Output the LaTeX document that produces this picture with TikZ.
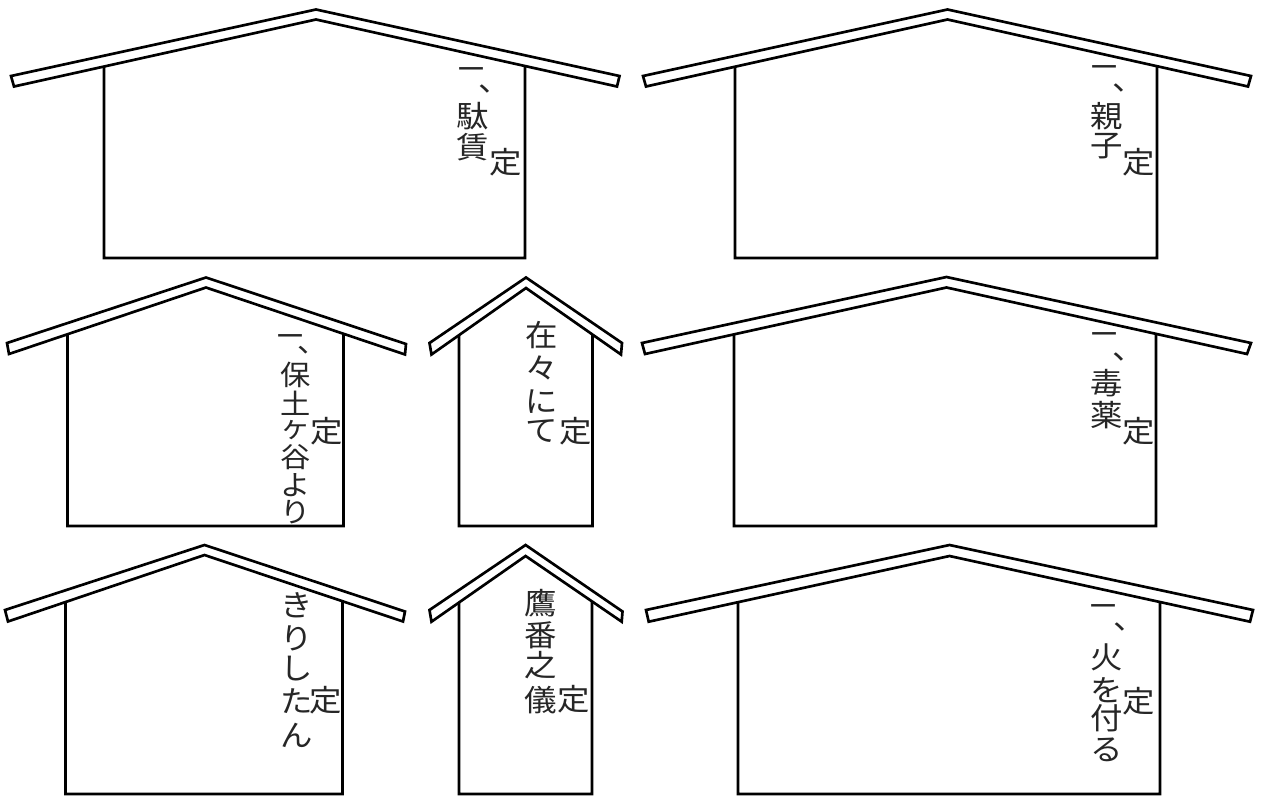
\documentclass[tikz,border=0pt]{standalone}
\usepackage{fontspec}
\newfontfamily\jp{Noto Sans CJK JP}
\begin{document}
\begin{tikzpicture}[x=0.75pt,y=-0.75pt,
  ln/.style={line width=2pt,line join=miter,black},
  chr/.style={font=\jp\fontsize{22.5}{27}\selectfont,inner sep=0pt,xscale=1.08,text=black!85},
  chrs/.style={chr,font=\jp\fontsize{21}{25}\selectfont},
  bar/.style={chr,xscale=0.8}]
\useasboundingbox[fill=white] (0,0) rectangle (1261,796);
% ---------- roofs ----------
% house 1
\coordinate (a1) at (11,76);   \coordinate (a2) at (316,9.5);  \coordinate (a3) at (619.5,76);
\coordinate (a4) at (617,86.5);\coordinate (a5) at (316,19.5); \coordinate (a6) at (14,86.5);
% house 2
\coordinate (b1) at (643,76);  \coordinate (b2) at (947.5,9.5);\coordinate (b3) at (1251,76);
\coordinate (b4) at (1248,86.5);\coordinate (b5) at (947.5,19.5);\coordinate (b6) at (646,86.5);
% house 3
\coordinate (c1) at (7,343);   \coordinate (c2) at (206,277.5);\coordinate (c3) at (406,344);
\coordinate (c4) at (405,354.5);\coordinate (c5) at (206,287.5);\coordinate (c6) at (9,354);
% house 4
\coordinate (d1) at (429.5,343);\coordinate (d2) at (526,277.5);\coordinate (d3) at (622,343);
\coordinate (d4) at (621,354.5);\coordinate (d5) at (526,288);\coordinate (d6) at (431.5,354.5);
% house 5
\coordinate (e1) at (642,343); \coordinate (e2) at (946.5,277);\coordinate (e3) at (1251,343);
\coordinate (e4) at (1247,354);\coordinate (e5) at (946.5,287.5);\coordinate (e6) at (645,354);
% house 6
\coordinate (f1) at (5,610);   \coordinate (f2) at (204.5,545);\coordinate (f3) at (405,611.5);
\coordinate (f4) at (403,621.5);\coordinate (f5) at (204.5,555);\coordinate (f6) at (8,621.5);
% house 7
\coordinate (g1) at (429.5,610);\coordinate (g2) at (525.6,545);\coordinate (g3) at (622.5,611.5);
\coordinate (g4) at (621.7,621.7);\coordinate (g5) at (525.6,556);\coordinate (g6) at (431.5,621.7);
% house 8
\coordinate (h1) at (646,610); \coordinate (h2) at (949.5,545);\coordinate (h3) at (1253,610);
\coordinate (h4) at (1250,621.7);\coordinate (h5) at (949.5,556);\coordinate (h6) at (648.7,621.7);
\foreach \p in {a,b,c,d,e,f,g,h}{
  \draw[ln] (\p1) -- (\p2) -- (\p3) -- (\p4) -- (\p5) -- (\p6) -- cycle;
}
% ---------- walls ----------
\newcommand\walls[4]{% #1 roof letter, #2 left x, #3 right x, #4 bottom y
  \coordinate (#1wl) at (intersection of #16--#15 and #2,0--#2,800);
  \coordinate (#1wr) at (intersection of #14--#15 and #3,0--#3,800);
  \coordinate (#1bl) at (#2,#4);
  \coordinate (#1br) at (#3,#4);
  \draw[ln] (#1wl) -- (#1bl) -- (#1br) -- (#1wr);
}
\walls{a}{104}{525}{258}
\walls{b}{735}{1157}{258}
\walls{c}{67.5}{343.5}{526}
\walls{d}{459}{592.5}{526}
\walls{e}{734}{1156}{526}
\walls{f}{65.5}{342.5}{794}
\walls{g}{459}{592}{794}
\walls{h}{738}{1160}{794}
% ---------- texts ----------
% house 1
\node[bar] (t1a) at (471,74.5) {一};
\node[chr] (t1b) at (494.5,89) {、};
\node[chr] (t1c) at (473,116.5) {駄};
\node[chr] (t1d) at (473,147.5) {賃};
\node[chr] (t1e) at (506,162.5) {定};
% house 2
\node[bar] (t2a) at (1104,72.5) {一};
\node[chr] (t2b) at (1128.5,88) {、};
\node[chr] (t2c) at (1107,116) {親};
\node[chr] (t2d) at (1107,146) {子};
\node[chr] (t2e) at (1139,162) {定};
% house 3
\node[bar] (t3a) at (290,341.5) {一};
\node[chrs] (t3b) at (313,350) {、};
\node[chrs] (t3c) at (296,374.5) {保};
\node[chrs] (t3d) at (296,403.5) {土};
\node[chrs] (t3e) at (296,430) {ヶ};
\node[chrs] (t3f) at (296,457.5) {谷};
\node[chrs] (t3g) at (296,485.5) {よ};
\node[chrs] (t3h) at (296,512.5) {り};
\node[chr] (t3i) at (326.5,431.5) {定};
% house 4
\node[chr] (t4a) at (542,335) {在};
\node[chr] (t4b) at (542,367.5) {々};
\node[chr] (t4c) at (542,401.5) {に};
\node[chr] (t4d) at (542,431.5) {て};
\node[chr] (t4e) at (575.5,431.5) {定};
% house 5
\node[bar] (t5a) at (1104,339.5) {一};
\node[chr] (t5b) at (1128.5,357) {、};
\node[chr] (t5c) at (1107,383.5) {毒};
\node[chr] (t5d) at (1107,415) {薬};
\node[chr] (t5e) at (1139,431) {定};
% house 6
\node[chr] (t6a) at (296.5,605.5) {き};
\node[chr] (t6b) at (296.5,638.5) {り};
\node[chr] (t6c) at (296.5,669) {し};
\node[chr] (t6d) at (296.5,701.5) {た};
\node[chr] (t6e) at (296.5,735) {ん};
\node[chr] (t6f) at (326,700) {定};
% house 7
\node[chr] (t7a) at (541,603.5) {鷹};
\node[chr] (t7b) at (541,635) {番};
\node[chr] (t7c) at (541,665.5) {之};
\node[chr] (t7d) at (541,700) {儀};
\node[chr] (t7e) at (573.5,699.5) {定};
% house 8
\node[bar] (t8a) at (1103,611.5) {一};
\node[chr] (t8b) at (1129.5,627) {、};
\node[chr] (t8c) at (1107,657) {火};
\node[chr] (t8d) at (1107,690) {を};
\node[chr] (t8e) at (1107,718) {付};
\node[chr] (t8f) at (1107,750) {る};
\node[chr] (t8g) at (1139,701) {定};
\end{tikzpicture}
\end{document}
